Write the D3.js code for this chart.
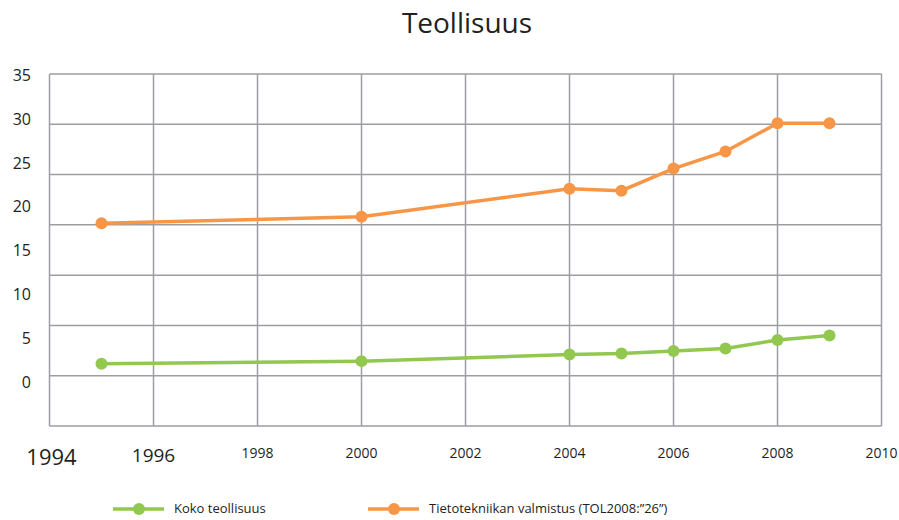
<!DOCTYPE html>
<html>
<head>
<meta charset="utf-8">
<script src="https://cdn.jsdelivr.net/npm/d3@7"></script>
<style>
  body { margin: 0; background: #fff; }
  text { font-family: "Open Sans", "Noto Sans", sans-serif; fill: #231f20; }
</style>
</head>
<body>
<svg width="899" height="520"></svg>
<script>
var years = [1995, 2000, 2004, 2005, 2006, 2007, 2008, 2009];
var koko = [6.2, 6.45, 7.1, 7.2, 7.45, 7.7, 8.55, 9.0];
var tieto = [20.15, 20.8, 23.6, 23.4, 25.6, 27.3, 30.1, 30.1];
var xTicks = [1994, 1996, 1998, 2000, 2002, 2004, 2006, 2008, 2010];
var yTicks = [0, 5, 10, 15, 20, 25, 30, 35];
var seriesNames = ["Koko teollisuus", "Tietotekniikan valmistus (TOL2008:\u201d26\u201d)"];

var svg = d3.select("svg");
var green = "#92c84f", orange = "#f79646", grid = "#9d9ea2";

var x = d3.scaleLinear().domain([1994, 2010]).range([49.5, 881.5]);
var y = d3.scaleLinear().domain([0, 35]).range([426, 74]);
// the tick labels sit on their own spacing in the original
var yLab = d3.scaleLinear().domain([0, 35]).range([388, 80.7]);

svg.append("text")
    .attr("x", 467).attr("y", 33)
    .attr("text-anchor", "middle")
    .style("font-size", "28px")
    .text("Teollisuus");

var g = svg.append("g");

g.selectAll(".hgrid")
    .data(yTicks)
    .enter().append("line")
    .attr("x1", x(1994)).attr("x2", x(2010))
    .attr("y1", function(d) { return y(d); })
    .attr("y2", function(d) { return y(d); })
    .attr("stroke", grid).attr("stroke-width", 1.5);

g.selectAll(".vgrid")
    .data(xTicks)
    .enter().append("line")
    .attr("x1", function(d) { return x(d); })
    .attr("x2", function(d) { return x(d); })
    .attr("y1", y(35)).attr("y2", y(0))
    .attr("stroke", grid).attr("stroke-width", 1.5);

g.selectAll(".ylab")
    .data(yTicks)
    .enter().append("text")
    .attr("x", 31)
    .attr("y", function(d) { return yLab(d); })
    .attr("text-anchor", "end")
    .style("font-size", "16px")
    .text(function(d) { return d; });

g.selectAll(".xlab")
    .data(xTicks)
    .enter().append("text")
    .attr("x", function(d) { return x(d) + (d === 1994 ? 2 : 0); })
    .attr("y", function(d) { return d === 1994 ? 465 : d === 1996 ? 462 : 458; })
    .attr("text-anchor", "middle")
    .style("font-size", function(d) { return d === 1994 ? "22px" : d === 1996 ? "19px" : "14px"; })
    .text(function(d) { return d; });

var line = d3.line()
    .x(function(d, i) { return x(years[i]); })
    .y(function(d) { return y(d); });

[[koko, green], [tieto, orange]].forEach(function(s) {
    g.append("path")
        .attr("d", line(s[0]))
        .attr("fill", "none")
        .attr("stroke", s[1])
        .attr("stroke-width", 3.5);
    g.selectAll(null)
        .data(s[0])
        .enter().append("circle")
        .attr("cx", function(d, i) { return x(years[i]); })
        .attr("cy", function(d) { return y(d); })
        .attr("r", 6)
        .attr("fill", s[1]);
});

// legend
var legX = [113, 368];
var legend = svg.selectAll(".leg")
    .data(seriesNames)
    .enter().append("g")
    .attr("transform", function(d, i) { return "translate(" + legX[i] + ",509)"; });
legend.append("line")
    .attr("x1", 0).attr("x2", 51)
    .attr("stroke", function(d, i) { return i ? orange : green; })
    .attr("stroke-width", 3.5);
legend.append("circle")
    .attr("cx", 26).attr("r", 6)
    .attr("fill", function(d, i) { return i ? orange : green; });
legend.append("text")
    .attr("x", 61).attr("y", 3.5)
    .style("font-size", "13px")
    .text(function(d) { return d; });
</script>
</body>
</html>
